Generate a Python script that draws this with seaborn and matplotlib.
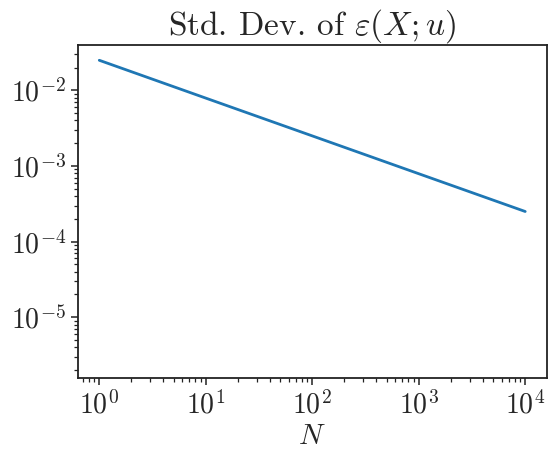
import numpy as np
import pandas as pd
import matplotlib
matplotlib.use("Agg")
import matplotlib.pyplot as plt
import seaborn as sns

# Data
N_values = [1, 10, 100, 1000, 10000]
std_values = [0.025, 0.0079, 0.0025, 0.00079, 0.00025]
title_text = r"Std. Dev. of $\varepsilon(X;u)$"
x_label = r"$N$"

sns.set_style("ticks")
plt.rcParams["font.family"] = ["cmr10", "DejaVu Serif"]
plt.rcParams["mathtext.fontset"] = "cm"
plt.rcParams["axes.formatter.use_mathtext"] = True
plt.rcParams["axes.unicode_minus"] = False

df = pd.DataFrame({"N": N_values, "std": std_values})

fig = plt.figure(figsize=(5.48, 4.5), dpi=100)
ax = fig.add_axes([0.1423, 0.1607, 0.9973 - 0.1423, 0.9 - 0.1607])
sns.lineplot(data=df, x="N", y="std", ax=ax, color="#1f77b4", linewidth=2)
ax.set_xscale("log")
ax.set_yscale("log")
ax.set_ylim(10 ** -5.8, 10 ** -1.4)
ax.set_xlim(10 ** -0.2, 10 ** 4.2)
ax.set_title(title_text, fontsize=24, pad=5)
ax.set_xlabel(x_label, fontsize=21, labelpad=3)
ax.set_ylabel("")
ax.tick_params(axis="both", which="major", labelsize=20, direction="out", length=5, width=1.1, color="#222222")
ax.tick_params(axis="x", which="major", pad=4)
ax.tick_params(axis="both", which="minor", length=3, width=0.9, color="#222222")
for s in ax.spines.values():
    s.set_visible(True)
    s.set_color("#222222")
    s.set_linewidth(1.3)

fig.savefig("out.png", dpi=100)
